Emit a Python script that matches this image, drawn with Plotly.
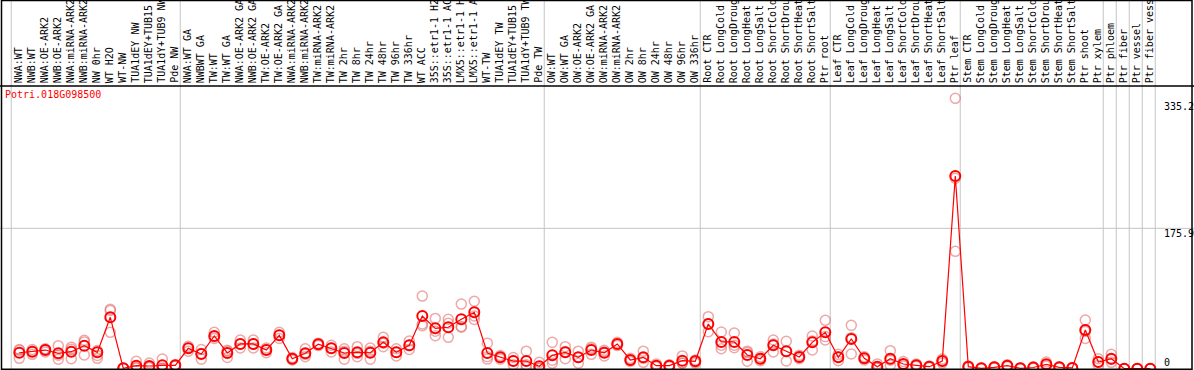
import plotly.graph_objects as go

gene = "Potri.018G098500"

labels = [
    "NWA:WT", "NWB:WT", "NWA:OE-ARK2", "NWB:OE-ARK2", "NWA:miRNA-ARK2", "NWB:miRNA-ARK2",
    "NW 0hr", "WT H2O", "WT-NW", "TUA1dEY NW", "TUA1dEY+TUB15", "TUA1dY+TUB9 NW", "Pde NW",
    "NWA:WT GA", "NWBWT GA", "TW:WT", "TW:WT GA", "NWA:OE-ARK2 GA", "NWB:OE-ARK2 GA",
    "TW:OE-ARK2", "TW:OE-ARK2 GA", "NWA:miRNA-ARK2", "NWB:miRNA-ARK2", "TW:miRNA-ARK2",
    "TW:miRNA-ARK2", "TW 2hr", "TW 8hr", "TW 24hr", "TW 48hr", "TW 96hr", "TW 336hr",
    "WT ACC", "35S::etr1-1 H2", "35S::etr1-1 AC", "LMX5::etr1-1 H", "LMX5::etr1-1 A",
    "WT-TW", "TUA1dEY TW", "TUA1dEY+TUB15", "TUA1dY+TUB9 TW", "Pde TW",
    "OW:WT", "OW:WT GA", "OW:OE-ARK2", "OW:OE-ARK2 GA", "OW:miRNA-ARK2", "OW:miRNA-ARK2",
    "OW 2hr", "OW 8hr", "OW 24hr", "OW 48hr", "OW 96hr", "OW 336hr",
    "Root CTR", "Root LongCold", "Root LongDroug", "Root LongHeat", "Root LongSalt",
    "Root ShortCold", "Root ShortDrou", "Root ShortHeat", "Root ShortSalt", "Ptr root",
    "Leaf CTR", "Leaf LongCold", "Leaf LongDroug", "Leaf LongHeat", "Leaf LongSalt",
    "Leaf ShortCold", "Leaf ShortDrou", "Leaf ShortHeat", "Leaf ShortSalt", "Ptr leaf",
    "Stem CTR", "Stem LongCold", "Stem LongDroug", "Stem LongHeat", "Stem LongSalt",
    "Stem ShortCold", "Stem ShortDrou", "Stem ShortHeat", "Stem ShortSalt", "Ptr shoot",
    "Ptr xylem", "Ptr phloem", "Ptr fiber", "Ptr vessel", "Ptr fiber vess",
]

means = [
    20.0, 21.3, 23.4, 19.3, 21.3, 28.8, 20.5, 64.4, 0.5, 3.8, 3.4, 4.2, 4.2,
    25.5, 18.4, 41.0, 19.7, 31.0, 31.0, 23.4, 41.8, 12.5, 19.3, 30.6, 25.5,
    19.7, 20.5, 20.0, 33.0, 20.5, 29.3, 66.0, 50.6, 51.9, 61.9, 70.7,
    19.7, 14.3, 9.6, 9.6, 3.0,
    16.8, 20.5, 14.3, 23.4, 20.0, 31.0, 10.9, 14.3, 3.8, 3.8, 10.0, 9.3,
    56.0, 33.5, 33.5, 17.2, 12.5, 29.3, 21.8, 14.7, 33.0, 45.6,
    14.3, 37.2, 13.0, 2.5, 12.5, 5.9, 4.2, 2.5, 9.6, 241.5,
    2.5, 0.5, 1.7, 3.8, 0.5, 1.5, 5.5, 1.7, 1.0, 48.5,
    8.4, 12.5, 0.0, 0.0, 0.0,
]

rep1 = [
    24, 24, 25, 28.8, 24.3, 35.6, 22.8, 74.4, 0.5, 9.3, 7.1, 12.2, 5,
    28, 24, 45.6, 23, 36, 36, 26, 45.6, 14, 25, 32, 29.3,
    25, 27.6, 26, 39.3, 25, 34.7, 91, 63, 62, 81, 84.5,
    32, 16.5, 14, 22, 8,
    33, 27.6, 22, 27, 23, 33, 13, 22, 6, 5, 16, 11,
    65.2, 46, 44.7, 22, 15, 36, 34.3, 17, 41, 60.6,
    18, 54.3, 15, 6, 22.6, 9, 6, 3.5, 12, 338.8,
    3.5, 1, 2.5, 5, 1, 2.5, 8.4, 2.5, 1.5, 61,
    12.5, 18, 0, 0, 0,
]

rep2 = [
    13, 18, 21, 11.8, 12.5, 17.2, 13, 45.6, 0.3, 1.5, 1.5, 1.0, 3,
    22, 12, 38, 14, 26, 26, 20, 38, 11, 15, 29, 21,
    11.8, 15, 11.8, 27.6, 16, 24, 53.9, 41.4, 39.3, 51.9, 61.7,
    12, 12, 5, 1.7, 0.5,
    6.8, 12.5, 6.8, 18, 16, 29, 9, 8, 2.5, 2.5, 6.8, 7,
    46.4, 25, 26.3, 9.3, 10, 21, 9.6, 12.5, 23.4, 36,
    10, 18.4, 11, 0.5, 4.2, 3.5, 3, 1.5, 7, 147.1,
    1.5, 0, 1, 2.5, 0, 0.5, 3, 1, 0.5, 38,
    4.2, 8, 0, 0, 0,
]

rep3 = [
    23, 22, 24, 17, 27, 33.6, 16.5, 73, 0.7, 1, 2, 0, 4,
    26, 19, 40, 22, 31, 31, 24, 42, 12.5, 18, 31, 26,
    22, 19, 22, 32, 20.5, 29, 56, 47, 56.9, 53, 66,
    15, 14.3, 10, 5, 0.5,
    10.6, 21.4, 14, 25, 21, 31, 10.7, 13, 3, 4, 7.2, 10,
    56.4, 29.5, 29.5, 20.3, 12.5, 31, 21.5, 14.6, 34.6, 40.2,
    15, 38.9, 13, 1, 10.7, 5.2, 3.6, 2.5, 9.8, 238.6,
    2.5, 0.5, 1.6, 3.9, 0.5, 1.5, 5.1, 1.6, 1, 46.5,
    8.5, 11.5, 0, 0, 0,
]

# last category index of each group (separators drawn just after them)
group_ends = [-1, 12, 40, 52, 62, 72, 83, 84, 85, 86, 87]

ytick_vals = [335.2, 175.9, 0]
ytick_text = ["335.2", "175.9", "0"]

# ---------------- layout geometry ----------------
W, H = 1194, 370
PX_PER_CAT = 13.0
X_FIRST = 19.3
x0 = -X_FIRST / PX_PER_CAT
x1 = x0 + W / PX_PER_CAT
ZERO_PX = 368.7
PX_PER_UNIT = 0.798
y_lo = (ZERO_PX - H) / PX_PER_UNIT
y_hi = ZERO_PX / PX_PER_UNIT
HEADER_PX = 86

def py(px):  # pixel from top -> paper y
    return (H - px) / H

def pxx(px):
    return px / W

MONO = "DejaVu Sans Mono"
idx = list(range(len(labels)))

fig = go.Figure()

rep_color = "rgba(225,110,110,0.6)"
for r in (rep1, rep2, rep3):
    fig.add_trace(go.Scatter(
        x=idx, y=r, mode="markers",
        marker=dict(symbol="circle-open", size=10, color=rep_color,
                    line=dict(width=1.5, color=rep_color)),
        hoverinfo="skip", showlegend=False,
    ))

fig.add_trace(go.Scatter(
    x=idx, y=means, mode="lines+markers",
    line=dict(color="#ff0000", width=1.2),
    marker=dict(symbol="circle-open", size=10, color="#ff0000",
                line=dict(width=2, color="#ff0000")),
    hoverinfo="skip", showlegend=False,
))

shapes = []
# group separators
for k in group_ends:
    xs = k + 0.38
    shapes.append(dict(type="line", xref="x", yref="paper", x0=xs, x1=xs, y0=0, y1=1,
                       line=dict(color="#c4c4c4", width=1), layer="below"))
# horizontal grid at middle tick
shapes.append(dict(type="line", xref="paper", yref="y", x0=0, x1=1, y0=175.9, y1=175.9,
                   line=dict(color="#c4c4c4", width=1), layer="below"))
# header separator
shapes.append(dict(type="line", xref="paper", yref="paper", x0=0, x1=1,
                   y0=py(HEADER_PX), y1=py(HEADER_PX), line=dict(color="black", width=1.5)))
# frame
shapes.append(dict(type="rect", xref="paper", yref="paper",
                   x0=pxx(1.5), x1=pxx(1192), y0=py(369.3), y1=py(0.5),
                   line=dict(color="black", width=1.5), fillcolor="rgba(0,0,0,0)"))

annotations = []
for i, lab in enumerate(labels):
    annotations.append(dict(
        x=i - 0.08, xref="x", y=py(HEADER_PX - 1), yref="paper",
        text=lab, textangle=-90, showarrow=False,
        xanchor="center", yanchor="bottom",
        font=dict(family=MONO, size=10, color="black"),
    ))

for v, t in zip(ytick_vals, ytick_text):
    if v == 0:
        annotations.append(dict(x=pxx(1162), xref="paper", y=v, yref="y", text=t,
                                showarrow=False, xanchor="left", yanchor="bottom", yshift=-1,
                                font=dict(family=MONO, size=10, color="black")))
    else:
        annotations.append(dict(x=pxx(1162), xref="paper", y=v, yref="y", text=t,
                                showarrow=False, xanchor="left", yanchor="top", yshift=2,
                                font=dict(family=MONO, size=10, color="black")))

annotations.append(dict(x=pxx(3), xref="paper", y=py(HEADER_PX + 1), yref="paper",
                        text=gene, showarrow=False, xanchor="left", yanchor="top",
                        font=dict(family=MONO, size=10, color="#ff0000")))

fig.update_layout(
    width=W, height=H, autosize=False,
    margin=dict(l=0, r=0, t=0, b=0),
    paper_bgcolor="white", plot_bgcolor="white",
    xaxis=dict(visible=False, range=[x0, x1], fixedrange=True),
    yaxis=dict(visible=False, range=[y_lo, y_hi], fixedrange=True),
    shapes=shapes, annotations=annotations,
    showlegend=False,
)

fig.write_html(
    "out.html",
    config={"displayModeBar": False},
    post_script="document.body.style.margin='0';document.body.style.padding='0';document.body.style.overflow='hidden';",
)
